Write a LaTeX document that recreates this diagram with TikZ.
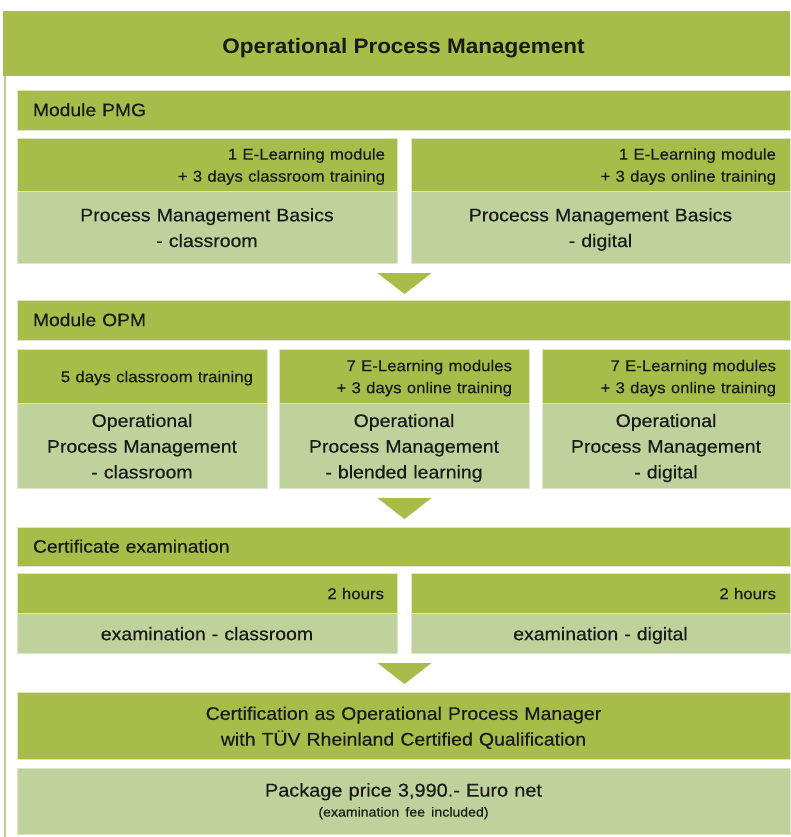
\documentclass[tikz,border=0pt]{standalone}
\usepackage{fontspec}
\setmainfont[FakeStretch=1.07,FakeBold=0.35,BoldFeatures={FakeBold=0}]{Liberation Sans}
\definecolor{dkgreen}{HTML}{A8BC4A}
\definecolor{ltgreen}{HTML}{C0D29C}
\definecolor{edgecol}{HTML}{DDE6C9}
\definecolor{framecol}{HTML}{BCD08F}
\definecolor{ink}{HTML}{1A1A1A}
\newcommand{\lowstrut}{\rule[-0.22\baselineskip]{0pt}{\baselineskip}}
\begin{document}
\begin{tikzpicture}[x=1pt,y=-1pt,
  box/.style={rectangle, inner sep=0pt, outer sep=0pt, anchor=north west, text=ink, draw=edgecol, line width=0.8pt,
    execute at begin node=\lowstrut, execute at end node=\lowstrut},
  dark/.style={box, fill=dkgreen},
  light/.style={box, fill=ltgreen},
  big/.style={font=\fontsize{18.2}{25.7}\selectfont},
  hdrfont/.style={font=\fontsize{18}{22}\selectfont},
  small/.style={font=\fontsize{15.7}{22}\selectfont},
  header/.style={dark, minimum width=773, text width=741, align=left, hdrfont},
  tri/.style={fill=dkgreen}]
\useasboundingbox (0,0) rectangle (790,837);
\fill[white] (0,0) rectangle (790,837);

% frame line
\coordinate (ftop) at (5,76);
\coordinate (fbot) at (5,837);
\draw[framecol, line width=2pt] (ftop) -- (fbot);

% title
\node[dark, draw=none, minimum width=787, minimum height=65, execute at begin node={}, execute at end node={},
  text height=21pt, text depth=0pt, font=\bfseries\fontsize{21}{25}\selectfont] (title) at (3,11) {\hspace*{14pt}Operational Process Management};

% Module PMG
\node[header, minimum height=40] (pmg) at (17,90) {Module PMG};
\node[dark, minimum width=380, minimum height=53, text width=356, align=right, small] (pmgLtop) at (17,138) {1 E-Learning module\\+ 3 days classroom training};
\node[light, minimum width=380, minimum height=72, text width=356, align=center, big] (pmgLbot) at (17,191) {Process Management Basics\\- classroom};
\node[dark, minimum width=379, minimum height=53, text width=351, align=right, small] (pmgRtop) at (411,138) {1 E-Learning module\\+ 3 days online training};
\node[light, minimum width=379, minimum height=72, text width=351, align=center, big] (pmgRbot) at (411,191) {Procecss Management Basics\\- digital};

\coordinate (a1) at (404.5,273);
\fill[tri] (a1) ++(-27,0) -- ++(54,0) -- ++(-27,21) -- cycle;

% Module OPM
\node[header, minimum height=40] (opm) at (17,300) {Module OPM};
\node[dark, minimum width=250, minimum height=54, text width=222, align=right, small] (opmAtop) at (17,349) {5 days classroom training};
\node[light, minimum width=250, minimum height=85, text width=222, align=center, big] (opmAbot) at (17,403) {Operational\\Process Management\\- classroom};
\node[dark, minimum width=250, minimum height=54, text width=216, align=right, small] (opmBtop) at (279,349) {7 E-Learning modules\\+ 3 days online training};
\node[light, minimum width=250, minimum height=85, text width=222, align=center, big] (opmBbot) at (279,403) {Operational\\Process Management\\- blended learning};
\node[dark, minimum width=248, minimum height=54, text width=220, align=right, small] (opmCtop) at (542,349) {7 E-Learning modules\\+ 3 days online training};
\node[light, minimum width=248, minimum height=85, text width=220, align=center, big] (opmCbot) at (542,403) {Operational\\Process Management\\- digital};

\coordinate (a2) at (404.5,498);
\fill[tri] (a2) ++(-27,0) -- ++(54,0) -- ++(-27,21) -- cycle;

% Certificate examination
\node[header, minimum height=39] (exam) at (17,527) {Certificate examination};
\node[dark, minimum width=380, minimum height=40, text width=354, align=right, small] (examLtop) at (17,573) {2 hours};
\node[light, minimum width=380, minimum height=40, text width=354, align=center, big] (examLbot) at (17,613) {examination - classroom};
\node[dark, minimum width=379, minimum height=40, text width=351, align=right, small] (examRtop) at (411,573) {2 hours};
\node[light, minimum width=379, minimum height=40, text width=351, align=center, big] (examRbot) at (411,613) {examination - digital};

\coordinate (a3) at (404.5,663);
\fill[tri] (a3) ++(-27,0) -- ++(54,0) -- ++(-27,21) -- cycle;

% Certification
\node[dark, minimum width=773, minimum height=67, text width=741, align=center, big] (cert) at (17,692) {Certification as Operational Process Manager\\with T\"UV Rheinland Certified Qualification};
\node[light, minimum width=773, minimum height=66, text width=741, align=center, font=\fontsize{18.6}{20}\selectfont] (price) at (17,768) {Package price 3,990.- Euro net\\\mbox{\fontsize{13.2}{20}\selectfont(examination fee included)}};
\end{tikzpicture}
\end{document}
